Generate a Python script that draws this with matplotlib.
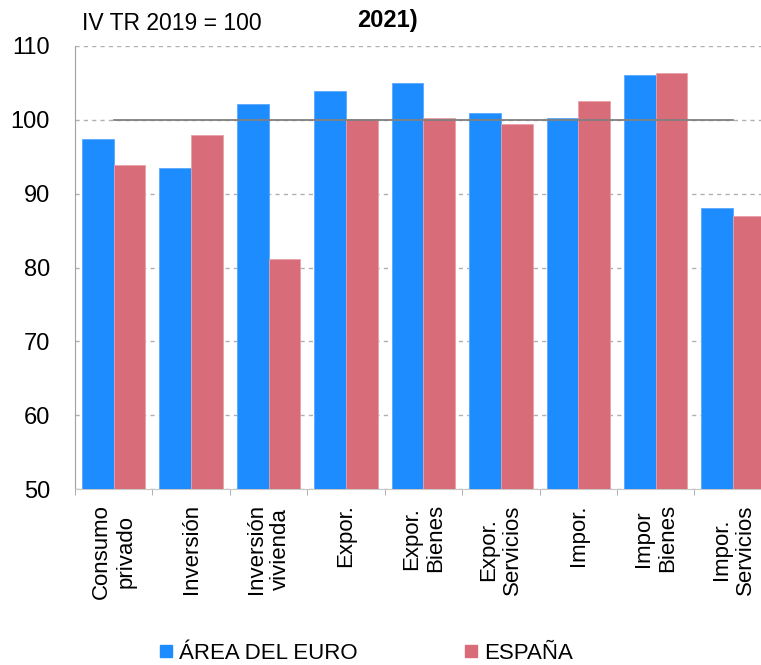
import matplotlib
matplotlib.use("Agg")
import matplotlib.pyplot as plt
from matplotlib.lines import Line2D
import numpy as np

plt.rcParams['font.family'] = ['Liberation Sans', 'DejaVu Sans']

categories = ["Consumo\nprivado", "Inversión", "Inversión\nvivienda", "Expor.",
              "Expor.\nBienes", "Expor.\nServicios", "Impor.", "Impor\nBienes",
              "Impor.\nServicios"]
area_euro = [97.4, 93.5, 102.1, 103.9, 105.0, 100.9, 100.2, 106.1, 88.1]
espana = [93.9, 97.9, 81.1, 100.1, 100.3, 99.5, 102.5, 106.3, 87.0]
ref_line = [100, 100, 100, 100, 100, 100, 100, 100, 100]
series_names = ["ÁREA DEL EURO", "ESPAÑA"]
yticks = [50, 60, 70, 80, 90, 100, 110]

blue = "#1c8cff"
red = "#d96c79"
FS = 16

fig = plt.figure(figsize=(7.61, 6.65), dpi=100)
ax = fig.add_axes([75/761, 1-489/665, 1-75/761, (489-46)/665])

x = np.arange(len(categories))
w = 0.41
ax.bar(x - w/2, area_euro, width=w, color=blue, edgecolor="#5aa8ff", linewidth=0.6, zorder=3)
ax.bar(x + w/2, espana, width=w, color=red, edgecolor="#e8a0a8", linewidth=0.6, zorder=3)
ax.plot(x, ref_line, color="#808080", lw=1.3, zorder=4)

ax.set_ylim(50, 110)
ax.set_xlim(-0.5, 8.36)
ax.set_yticks(yticks)
ax.set_yticklabels([str(v) for v in yticks], fontsize=17)
ax.yaxis.grid(True, color="#b0b0b0", linestyle=(0, (3, 3)), linewidth=1, zorder=0)
ax.set_axisbelow(True)

ax.set_xticks(x)
ax.set_xticklabels(categories, rotation=90, fontsize=FS, ha='center', va='top',
                   multialignment='center')
ax.tick_params(axis='x', length=0, pad=11)
ax.set_xticks(np.arange(-0.5, 8.5, 1), minor=True)
ax.tick_params(axis='x', which='minor', length=4, color="#a0a0a0", direction='out')
ax.tick_params(axis='y', length=0, pad=18)

for s in ["top", "right"]:
    ax.spines[s].set_visible(False)
ax.spines["left"].set_color("#a0a0a0")
ax.spines["bottom"].set_color("#c8c8c8")

fig.text(82/761, 1-24/665, "IV TR 2019 = 100", fontsize=16.5, va='center', ha='left')
fig.text(387/761, 1-21/665, "2021)", fontsize=17, fontweight='bold', va='center', ha='center')

handles = [Line2D([], [], marker='s', linestyle='none', markersize=9, color=blue),
           Line2D([], [], marker='s', linestyle='none', markersize=9, color=red)]
fig.legend(handles, series_names, loc='center', bbox_to_anchor=(366/761, 0.018), ncol=2,
           frameon=False, fontsize=16, handlelength=0.6, handletextpad=0.3,
           columnspacing=4.8, borderpad=0)

fig.savefig("out.png", dpi=100)
